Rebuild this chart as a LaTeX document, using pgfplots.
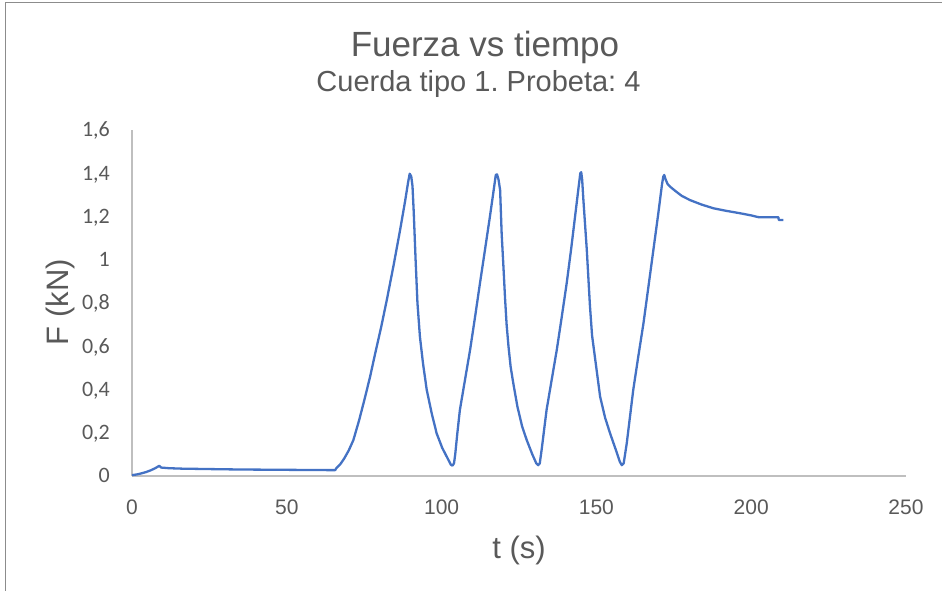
\documentclass[border=0pt]{standalone}
\usepackage{fontspec}
\setmainfont{Liberation Sans}
\newfontfamily\calibri{Carlito}
\usepackage{pgfplots}
\pgfplotsset{compat=1.18}
\definecolor{serie}{HTML}{4472C4}
\definecolor{texto}{HTML}{595959}
\definecolor{eje}{HTML}{BFBFBF}
\definecolor{marco}{HTML}{8C8C8C}
\frenchspacing

\begin{document}
\begin{tikzpicture}
\path[use as bounding box] (0,0) rectangle (942pt,591pt);
% chart frame
\draw[marco, line width=1pt] (5pt,-5pt) -- (5pt,588pt) -- (950pt,588pt);
% titles
\node[texto, font=\fontsize{35}{35}\selectfont, anchor=base, inner sep=0pt] at (485pt,534.3pt) {Fuerza vs tiempo};
\node[texto, font=\fontsize{29}{29}\selectfont, anchor=base, inner sep=0pt] at (478.5pt,499.3pt) {Cuerda tipo 1. Probeta: 4};
% axis titles
\node[texto, font=\fontsize{31}{31}\selectfont, inner sep=0pt] at (519pt,41pt) {t (s)};
\node[texto, font=\fontsize{31}{31}\selectfont, inner sep=0pt, rotate=90] at (60pt,289pt) {F (kN)};

\begin{axis}[
  at={(132pt,115pt)}, anchor=south west,
  width=774pt, height=346pt, scale only axis,
  xmin=0, xmax=250, ymin=0, ymax=1.6,
  axis x line*=bottom, axis y line*=left,
  axis line style={draw=eje, line width=1.3pt, -},
  major tick length=0pt,
  xtick={0,50,...,250},
  ytick={0,0.2,...,1.6},
  /pgf/number format/assume math mode=true,
  yticklabel style={/pgf/number format/.cd, use comma, fixed, precision=1, /tikz/.cd,
    font=\calibri\fontsize{22}{22}\selectfont, text=texto,
    anchor=base east, inner sep=0pt, xshift=-22pt, yshift=-7pt},
  xticklabel style={font=\fontsize{21}{21}\selectfont, text=texto,
    anchor=center, inner sep=0pt, yshift=-31.5pt},
  clip=false,
]
\addplot[serie, line width=2.3pt, line join=round] coordinates {
(0,0.004) (1.5,0.007) (3,0.012) (4.5,0.018) (6,0.026) (7.5,0.036) (8.8,0.047)
(9.4,0.039) (12,0.036) (16,0.034) (25,0.032) (35,0.030) (45,0.029) (55,0.028)
(65.6,0.027) (66.1,0.038) (67.3,0.055) (68.5,0.080) (70,0.118) (71.5,0.166)
(73.4,0.260) (75.2,0.360) (76.9,0.459) (78.6,0.570) (80.5,0.690) (82.3,0.814)
(84.5,0.975) (86.6,1.138) (88.2,1.270) (89.2,1.360) (89.7,1.398) (90.2,1.385)
(90.6,1.34) (91.0,1.22) (91.6,1.00) (92.2,0.80) (93.0,0.644) (94.0,0.52)
(95.2,0.398) (96.8,0.290) (98.4,0.197) (100.2,0.130) (102.0,0.080) (103.0,0.052)
(103.5,0.048) (104.0,0.058)
(104.4,0.100) (105.1,0.200) (105.9,0.305) (107.5,0.440) (109.2,0.583) (110.8,0.735)
(112.4,0.892) (114.0,1.045) (115.6,1.199) (116.8,1.320) (117.5,1.392) (117.9,1.395)
(118.4,1.370)
(118.9,1.322) (119.4,1.120) (120.0,0.960) (120.5,0.820) (121.0,0.700) (121.6,0.600)
(122.3,0.505) (123.2,0.425) (124.5,0.320) (126.0,0.230) (127.5,0.166) (129.3,0.100)
(130.6,0.058) (131.2,0.050) (131.7,0.058)
(132.3,0.120) (133.9,0.305) (135.5,0.440) (137.2,0.583) (138.8,0.735) (140.4,0.891)
(141.8,1.045) (143.1,1.199) (144.2,1.330) (144.8,1.400) (145.1,1.405) (145.4,1.370)
(145.8,1.276) (146.9,1.045) (147.9,0.790) (148.6,0.650) (149.5,0.552) (151.2,0.367)
(152.8,0.270) (154.4,0.198) (156.3,0.120) (157.6,0.065) (158.2,0.050) (158.8,0.058)
(159.8,0.151) (161.9,0.398) (163.5,0.550) (165.2,0.706) (166.8,0.875) (168.4,1.045)
(170.0,1.215) (171.2,1.350) (171.6,1.384) (171.9,1.392) (172.4,1.370)
(173.0,1.350) (173.8,1.338) (175.5,1.318) (177.5,1.296) (180.2,1.276) (184.0,1.255)
(187.8,1.238) (192.0,1.226) (196.4,1.215) (200.0,1.205) (202.3,1.197) (208.8,1.196)
(208.9,1.184) (210.4,1.184)
};
\end{axis}
\end{tikzpicture}
\end{document}
